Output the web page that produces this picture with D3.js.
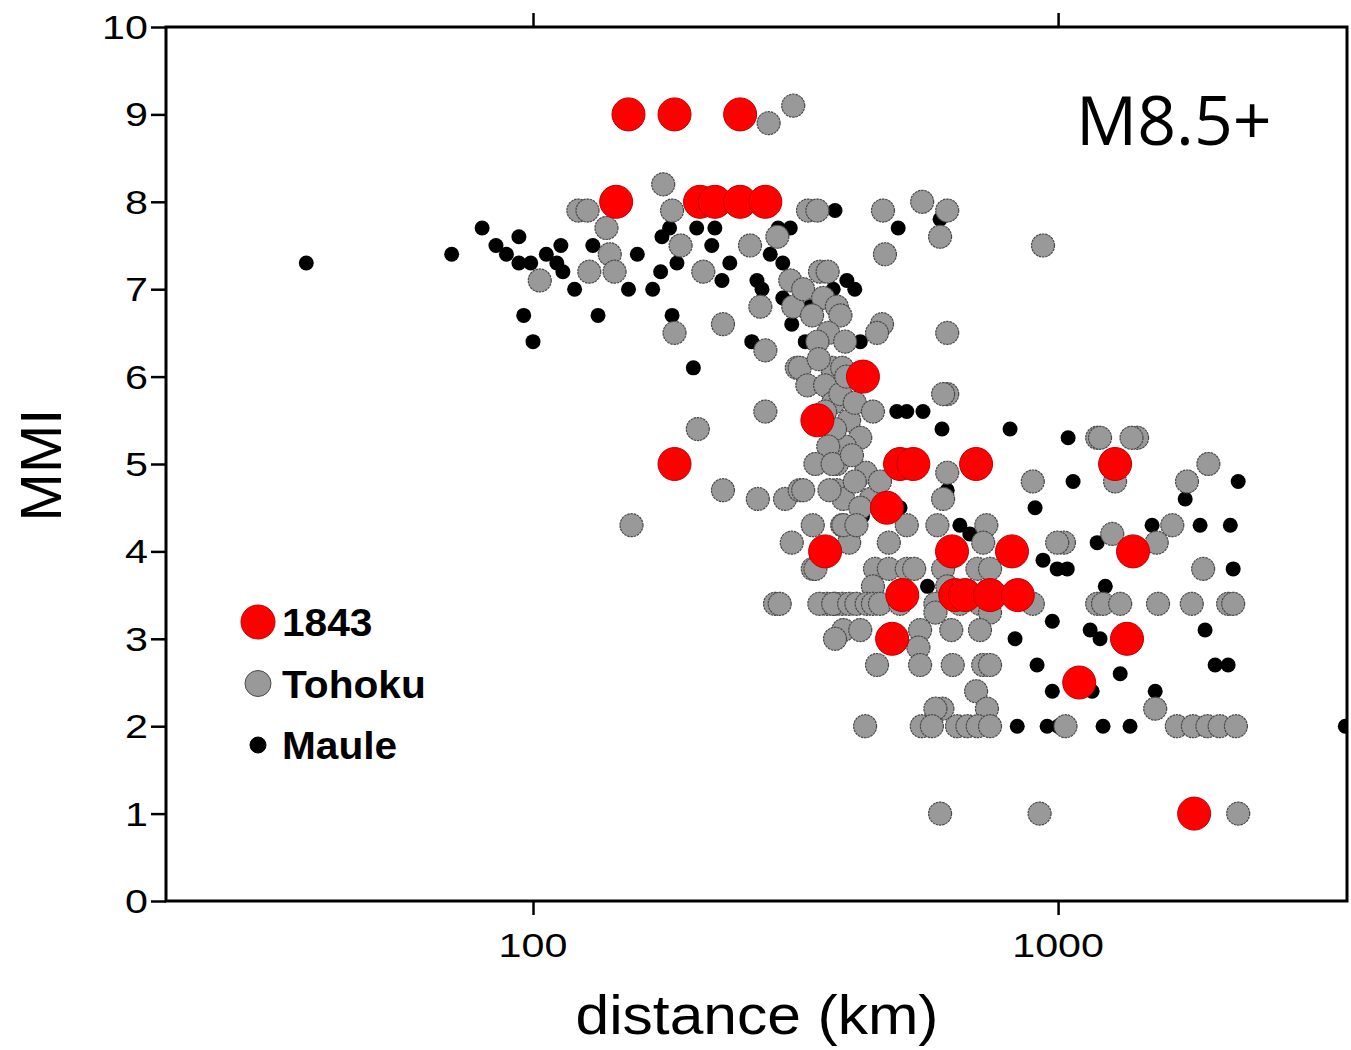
<!DOCTYPE html>
<html>
<head>
<meta charset="utf-8">
<script src="https://cdn.jsdelivr.net/npm/d3@7"></script>
<style>
    html, body { margin: 0; padding: 0; background: #ffffff; }
    svg { display: block; }
</style>
</head>
<body>
<div id="chart"></div>
<script>

// [distance (km), MMI]
var event1843 = [
    [152, 9], [186, 9], [248, 9],
    [144, 8], [208, 8], [222, 8], [248, 8], [277, 8],
    [425, 6], [348, 5.5],
    [186, 5], [500, 5], [530, 5], [698, 5], [1284, 5],
    [472, 4.5],
    [360, 4], [628, 4], [817, 4], [1389, 4],
    [505, 3.5], [637, 3.5], [665, 3.5], [742, 3.5], [838, 3.5],
    [483, 3], [1353, 3],
    [1097, 2.5],
    [1816, 1]
];

var tohoku = [
    [103, 7.1], [122, 7.9], [127, 7.9], [138, 7.7], [140, 7.4], [128, 7.2], [143, 7.2],
    [177, 8.2], [184, 7.9], [191, 7.5], [211, 7.2], [230, 6.6], [186, 6.5],
    [259, 7.5], [292, 7.6], [281, 8.9], [313, 9.1], [271, 6.8], [277, 6.3],
    [309, 7.1], [313, 6.8], [318, 6.1], [334, 7.9], [348, 7.9], [464, 7.9],
    [551, 8.0], [615, 7.9], [596, 7.6], [468, 7.4], [936, 7.5],
    [352, 7.2], [364, 7.2], [327, 7.0], [357, 6.9], [379, 6.8], [340, 6.7],
    [385, 6.7], [462, 6.6], [452, 6.5], [615, 6.5], [365, 6.5], [348, 6.4],
    [393, 6.4], [322, 6.1], [371, 6.1], [388, 6.1],
    [277, 5.6], [206, 5.4], [154, 4.3], [230, 4.7], [268, 4.6], [302, 4.6],
    [322, 4.7], [311, 4.1], [341, 4.3], [341, 3.8],
    [289, 3.4], [295, 3.4], [363, 3.4], [376, 3.4], [388, 3.4],
    [333, 5.9], [360, 5.9], [373, 5.7], [385, 5.8], [379, 5.0], [379, 4.7],
    [390, 4.6], [388, 4.3], [400, 5.5], [420, 5.3], [393, 5.2], [430, 4.9],
    [410, 4.8], [376, 5.4], [410, 5.7], [365, 5.2], [440, 4.6], [420, 4.5],
    [400, 4.1], [367, 4.7], [327, 4.7], [458, 4.8], [345, 5.0], [360, 5.6],
    [395, 6.0], [350, 6.2], [372, 5.0], [405, 5.1],
    [615, 5.8], [604, 5.8], [444, 5.6], [1187, 5.3], [615, 4.9], [895, 4.8],
    [604, 4.6], [390, 4.3], [413, 4.3], [515, 4.3], [589, 4.3], [730, 4.3],
    [476, 4.1], [720, 4.1], [1026, 4.1], [996, 4.1],
    [345, 3.8], [448, 3.8], [476, 3.8], [515, 3.8], [532, 3.8], [604, 3.8],
    [702, 3.8], [742, 3.8], [615, 3.6], [444, 3.6],
    [351, 3.4], [373, 3.4], [400, 3.4], [413, 3.4], [432, 3.4], [444, 3.4],
    [458, 3.4], [500, 3.4], [584, 3.4], [650, 3.4], [710, 3.4], [895, 3.4],
    [1187, 3.4], [1218, 3.4], [1313, 3.4], [1550, 3.4], [1797, 3.4], [2108, 3.4],
    [2155, 3.4],
    [584, 3.3], [742, 3.3],
    [390, 3.1], [420, 3.1], [546, 3.1], [626, 3.1], [710, 3.1],
    [376, 3.0], [542, 2.9],
    [452, 2.7], [546, 2.7], [630, 2.7], [720, 2.7], [742, 2.7],
    [698, 2.4], [602, 2.2], [584, 2.2], [732, 2.2], [1531, 2.2],
    [429, 2.0], [550, 2.0], [575, 2.0], [642, 2.0], [672, 2.0], [703, 2.0],
    [742, 2.0], [1033, 2.0], [1683, 2.0], [1806, 2.0], [1925, 2.0], [2031, 2.0],
    [2181, 2.0],
    [596, 1.0], [922, 1.0], [2203, 1.0],
    [1202, 5.3], [1414, 5.3], [1380, 5.3], [1933, 5.0], [1284, 4.8], [1760, 4.8],
    [1650, 4.3], [1268, 4.2], [1541, 4.1], [1889, 3.8]
];

var maule = [
    [37, 7.3], [70, 7.4], [80, 7.7], [85, 7.5], [89, 7.4], [94, 7.6], [94, 7.3],
    [99, 7.3], [106, 7.4], [113, 7.5], [111, 7.3], [114, 7.2], [120, 7.0],
    [96, 6.7], [100, 6.4], [130, 7.5], [133, 6.7], [152, 7.0], [158, 7.4],
    [169, 7.0], [175, 7.2], [176, 7.6], [182, 7.7], [184, 6.7], [188, 7.3],
    [205, 7.7], [219, 7.5], [222, 7.7], [229, 7.1], [202, 6.1], [237, 7.3],
    [261, 6.4], [267, 7.1], [273, 7.0], [283, 7.4], [293, 7.7], [309, 7.7],
    [299, 7.3], [309, 7.1], [311, 6.6], [299, 6.9], [337, 6.8], [376, 7.9],
    [496, 7.7], [596, 7.8], [396, 7.1], [410, 7.0], [373, 7.0], [420, 6.4],
    [330, 6.4],
    [493, 5.6], [515, 5.6], [553, 5.6], [601, 5.4], [810, 5.4], [1045, 5.3],
    [1068, 4.8], [2203, 4.8], [904, 4.5], [1746, 4.6], [650, 4.3], [679, 4.2],
    [1510, 4.3], [1864, 4.3], [2128, 4.3], [1187, 4.1], [936, 3.9], [996, 3.8],
    [1041, 3.8], [2155, 3.8], [1230, 3.6], [975, 3.2], [1151, 3.1], [1202, 3.0],
    [1905, 3.1], [828, 3.0], [912, 2.7], [1313, 2.6], [1991, 2.7], [2108, 2.7],
    [975, 2.4], [1531, 2.4], [1161, 2.4],
    [836, 2.0], [953, 2.0], [1218, 2.0], [1371, 2.0], [1000, 2.0], [3524, 2.0],
    [424, 4.4], [500, 4.5], [564, 3.6], [615, 4.7]
];

var yTicks = [ 0, 1, 2, 3, 4, 5, 6, 7, 8, 9, 10 ];
var xTicks = [ 100, 1000 ];
var legendLabels = [ '1843', 'Tohoku', 'Maule' ];

var width = 1351,
    height = 1050;

var font = '"Liberation Sans", Arial, sans-serif';

var svg = d3.select('#chart').append('svg')
    .attr('width', width)
    .attr('height', height);

var x = d3.scaleLog()
    .domain([ 20, 3550 ])
    .range([ 166, 1347 ]);

var y = d3.scaleLinear()
    .domain([ 0, 10 ])
    .range([ 901, 27 ]);

var clip = svg.append('defs').append('clipPath')
    .attr('id', 'plot-clip');

clip.append('rect')
    .attr('x', 166)
    .attr('y', 27)
    .attr('width', 1181)
    .attr('height', 874);

var plot = svg.append('g')
    .attr('clip-path', 'url(#plot-clip)');

// black first, then gray on top, red last
plot.selectAll('.maule')
    .data( maule )
    .enter().append('circle')
    .attr('class', 'maule')
    .attr('cx', function ( d ) { return x( d[0] ); })
    .attr('cy', function ( d ) { return y( d[1] ); })
    .attr('r', 7.5)
    .style('fill', '#000000');

plot.selectAll('.tohoku')
    .data( tohoku )
    .enter().append('circle')
    .attr('class', 'tohoku')
    .attr('cx', function ( d ) { return x( d[0] ); })
    .attr('cy', function ( d ) { return y( d[1] ); })
    .attr('r', 11.5)
    .style('fill', '#999999')
    .style('stroke', '#4a4a4a')
    .style('stroke-width', 1.2)
    .style('stroke-dasharray', '2.5,0.8');

plot.selectAll('.ev1843')
    .data( event1843 )
    .enter().append('circle')
    .attr('class', 'ev1843')
    .attr('cx', function ( d ) { return x( d[0] ); })
    .attr('cy', function ( d ) { return y( d[1] ); })
    .attr('r', 16.5)
    .style('fill', '#ff0000')
    .style('stroke', '#c00000')
    .style('stroke-width', 1);

// frame
svg.append('rect')
    .attr('x', 166)
    .attr('y', 27)
    .attr('width', 1181)
    .attr('height', 874)
    .style('fill', 'none')
    .style('stroke', '#000000')
    .style('stroke-width', 3);

var yAxis = svg.append('g')
    .attr('transform', 'translate(166,0)')
    .call( d3.axisLeft( y ).tickValues( yTicks ).tickSize( 15 ).tickFormat('') );

var xAxis = svg.append('g')
    .attr('transform', 'translate(0,901)')
    .call( d3.axisBottom( x ).tickValues( xTicks ).tickSize( 14 ).tickFormat('') );

var xTop = svg.append('g')
    .attr('transform', 'translate(0,27)')
    .call( d3.axisTop( x ).tickValues( xTicks ).tickSize( 14 ).tickFormat('') );

[ yAxis, xAxis, xTop ].forEach( function ( g ) {

    g.select('.domain').remove();
    g.selectAll('line')
        .style('stroke', '#000000')
        .style('stroke-width', 2.5);

});

// tick labels, a bit wider than the font draws them
var stretch = 1.25;

svg.append('g').selectAll('text')
    .data( yTicks )
    .enter().append('text')
    .attr('transform', function ( d ) { return 'translate(148,' + ( y( d ) + 12 ) + ') scale(' + stretch + ',1)'; })
    .attr('text-anchor', 'end')
    .style('font-family', font)
    .style('font-size', '33px')
    .text( function ( d ) { return d; });

svg.append('g').selectAll('text')
    .data( xTicks )
    .enter().append('text')
    .attr('transform', function ( d ) { return 'translate(' + x( d ) + ',957) scale(' + stretch + ',1)'; })
    .attr('text-anchor', 'middle')
    .style('font-family', font)
    .style('font-size', '33px')
    .text( function ( d ) { return d; });

// titles
svg.append('text')
    .attr('transform', 'translate(757,1034) scale(1.1,1)')
    .attr('text-anchor', 'middle')
    .style('font-family', font)
    .style('font-size', '55px')
    .text('distance (km)');

svg.append('text')
    .attr('transform', 'translate(61,465) rotate(-90)')
    .attr('text-anchor', 'middle')
    .style('font-family', font)
    .style('font-size', '58px')
    .text('MMI');

svg.append('text')
    .attr('x', 1076)
    .attr('y', 145)
    .style('font-family', '"Open Sans", "Noto Sans", sans-serif')
    .style('font-size', '68px')
    .style('fill', '#000000')
    .text('M8.5+');

// legend
var legendRadius = [ 17, 13, 8 ];
var legendFill = [ '#ff0000', '#999999', '#000000' ];
var legendStroke = [ '#c00000', '#4a4a4a', '#000000' ];

var legend = svg.append('g')
    .selectAll('g')
    .data( legendLabels )
    .enter().append('g')
    .attr('transform', function ( d, i ) { return 'translate(258,' + ( 622 + i * 61.5 ) + ')'; });

legend.append('circle')
    .attr('r', function ( d, i ) { return legendRadius[ i ]; })
    .style('fill', function ( d, i ) { return legendFill[ i ]; })
    .style('stroke', function ( d, i ) { return legendStroke[ i ]; })
    .style('stroke-width', 1);

legend.append('text')
    .attr('transform', 'translate(24,14) scale(1.07,1)')
    .style('font-family', font)
    .style('font-weight', 'bold')
    .style('font-size', '38px')
    .text( function ( d ) { return d; });

</script>
</body>
</html>
